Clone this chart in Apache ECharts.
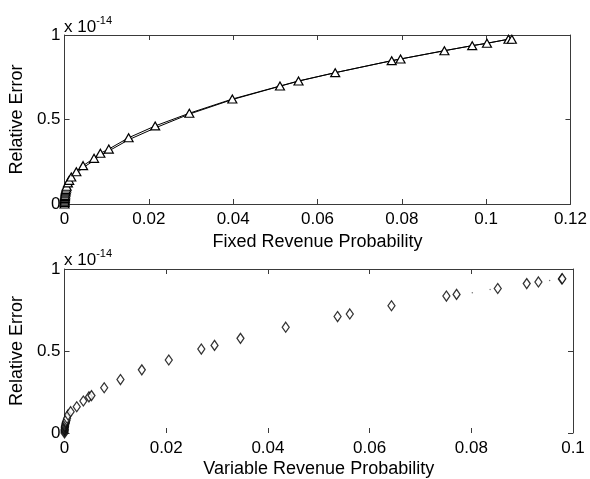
<!DOCTYPE html>
<html>
<head>
<meta charset="utf-8">
<script src="https://cdn.jsdelivr.net/npm/echarts@6/dist/echarts.min.js"></script>
<style>
html,body{margin:0;padding:0;background:#fff;}
#chart{width:590px;height:479px;}
</style>
</head>
<body>
<div id="chart"></div>
<script>
// Top panel: Fixed Revenue Probability
var fixedX = [0, 0.00001, 0.00002, 0.00003, 0.00005, 0.00006, 0.00008, 0.0001, 0.00015, 0.0002, 0.00025, 0.0003, 0.0004, 0.0005, 0.0008, 0.0011, 0.0016, 0.0028, 0.0044, 0.0070, 0.0085, 0.0105, 0.0152, 0.0215, 0.0296, 0.0398, 0.0511, 0.0555, 0.0642, 0.0776, 0.0797, 0.0901, 0.0967, 0.1002, 0.1053, 0.1061];
var fixedY = [0, 0.01, 0.017, 0.025, 0.033, 0.04, 0.045, 0.05, 0.06, 0.07, 0.078, 0.085, 0.095, 0.105, 0.125, 0.14, 0.16, 0.191, 0.227, 0.27, 0.30, 0.325, 0.392, 0.462, 0.537, 0.621, 0.698, 0.728, 0.777, 0.848, 0.858, 0.907, 0.937, 0.951, 0.975, 0.975];
var fixedY2 = [0, 0.01, 0.016, 0.022, 0.03, 0.036, 0.041, 0.046, 0.055, 0.064, 0.071, 0.078, 0.087, 0.097, 0.116, 0.13, 0.15, 0.18, 0.215, 0.258, 0.288, 0.314, 0.38, 0.45, 0.532, 0.618, 0.697, 0.727, 0.777, 0.848, 0.858, 0.907, 0.937, 0.951, 0.975, 0.975];
// Bottom panel: Variable Revenue Probability
var varX = [0, 0.00001, 0.00002, 0.00003, 0.00004, 0.00006, 0.00008, 0.0001, 0.00015, 0.0002, 0.00025, 0.0003, 0.0004, 0.0005, 0.0007, 0.0012, 0.0024, 0.0037, 0.0048, 0.0053, 0.0078, 0.0110, 0.0152, 0.0205, 0.0269, 0.0295, 0.0346, 0.0435, 0.0537, 0.0561, 0.0643, 0.0751, 0.0771, 0.0852, 0.0909, 0.0932, 0.0978, 0.0979];
var varY = [0, 0.008, 0.016, 0.02, 0.025, 0.033, 0.038, 0.042, 0.05, 0.058, 0.063, 0.068, 0.078, 0.09, 0.11, 0.13, 0.16, 0.195, 0.22, 0.228, 0.276, 0.326, 0.385, 0.445, 0.512, 0.534, 0.577, 0.645, 0.71, 0.726, 0.776, 0.835, 0.845, 0.881, 0.911, 0.921, 0.939, 0.941];
var varDotX = [0.0802, 0.0837, 0.0954];
var varDotY = [0.855, 0.875, 0.93];
var xTicksTop = [0, 0.02, 0.04, 0.06, 0.08, 0.1, 0.12];
var xTicksBottom = [0, 0.02, 0.04, 0.06, 0.08, 0.1];
var yTicks = [0, 0.5, 1];

function pairs(xs, ys) { return xs.map(function (x, i) { return [x, ys[i]]; }); }

var FONT = "'Liberation Sans', Arial, sans-serif";
var AX = '#3a3a3a';

function xAx(grid, max, pos, isMain, showLine, nameText, gap) {
  return {
    type: 'value', gridIndex: grid, min: 0, max: max, interval: 0.02, position: pos,
    axisLine: { show: showLine, onZero: false, lineStyle: { color: AX, width: 1 } },
    axisTick: { show: true, inside: true, length: 5, lineStyle: { color: AX } },
    axisLabel: { show: isMain, color: '#000', fontFamily: FONT, fontSize: 17, margin: 7,
      formatter: function (v) { return String(+v.toFixed(4)); } },
    splitLine: { show: false },
    name: isMain ? nameText : '', nameLocation: 'middle', nameGap: gap,
    nameTextStyle: { color: '#000', fontFamily: FONT, fontSize: 18 }
  };
}
function yAx(grid, pos, isMain) {
  return {
    type: 'value', gridIndex: grid, min: 0, max: 1, interval: 0.5, position: pos,
    axisLine: { show: true, onZero: false, lineStyle: { color: AX, width: 1 } },
    axisTick: { show: true, inside: true, length: 5, lineStyle: { color: AX } },
    axisLabel: { show: isMain, color: '#000', fontFamily: FONT, fontSize: 17, margin: 4 },
    splitLine: { show: false },
    name: isMain ? 'Relative Error' : '', nameLocation: 'middle', nameGap: 31, nameRotate: 90,
    nameTextStyle: { color: '#000', fontFamily: FONT, fontSize: 18 }
  };
}

var chart = echarts.init(document.getElementById('chart'), null, { renderer: 'canvas' });
chart.setOption({
  backgroundColor: '#fff',
  animation: false,
  grid: [
    { left: 63, top: 35, width: 510, height: 169 },
    { left: 63, top: 269, width: 510, height: 168 }
  ],
  xAxis: [
    xAx(0, 0.12, 'bottom', true, true, 'Fixed Revenue Probability', 29),
    xAx(0, 0.12, 'top', false, true, '', 0),
    xAx(1, 0.1, 'bottom', true, false, 'Variable Revenue Probability', 27),
    xAx(1, 0.1, 'top', false, true, '', 0)
  ],
  yAxis: [
    yAx(0, 'left', true),
    yAx(0, 'right', false),
    yAx(1, 'left', true),
    yAx(1, 'right', false)
  ],
  graphic: [
    { type: 'text', left: 64, top: 15, style: { rich: { a: { fontSize: 17, fontFamily: FONT, fill: '#000', verticalAlign: 'bottom' }, s: { fontSize: 11, fontFamily: FONT, fill: '#000', verticalAlign: 'top', padding: [0, 0, 10, 0] } }, text: '{a|x 10}{s|-14}' } },
    { type: 'text', left: 64, top: 248, style: { rich: { a: { fontSize: 17, fontFamily: FONT, fill: '#000', verticalAlign: 'bottom' }, s: { fontSize: 11, fontFamily: FONT, fill: '#000', verticalAlign: 'top', padding: [0, 0, 10, 0] } }, text: '{a|x 10}{s|-14}' } }
  ],
  series: [
    { type: 'line', xAxisIndex: 0, yAxisIndex: 0, data: pairs(fixedX, fixedY2), showSymbol: false, symbol: 'none',
      lineStyle: { color: '#000', width: 1 }, z: 2 },
    { type: 'line', xAxisIndex: 0, yAxisIndex: 0, data: pairs(fixedX, fixedY), symbol: 'triangle', symbolSize: [9, 8],
      lineStyle: { color: '#000', width: 1 }, itemStyle: { color: '#fff', borderColor: '#000', borderWidth: 1.2 }, z: 3 },
    { type: 'scatter', xAxisIndex: 2, yAxisIndex: 2, data: pairs(varX, varY), symbol: 'diamond', symbolSize: [7, 10],
      itemStyle: { color: '#fff', borderColor: '#000', borderWidth: 1.3 }, z: 3 },
    { type: 'scatter', xAxisIndex: 2, yAxisIndex: 2, data: pairs(varDotX, varDotY), symbol: 'circle', symbolSize: 1.5,
      itemStyle: { color: '#555' }, z: 3 }
  ]
});
</script>
</body>
</html>
